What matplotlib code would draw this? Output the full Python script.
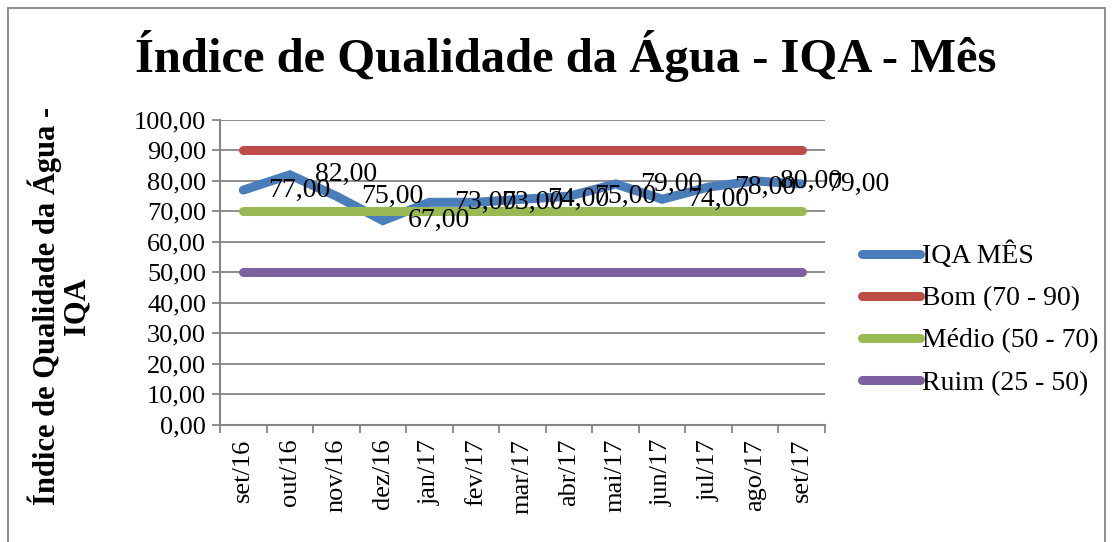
import matplotlib.pyplot as plt
from matplotlib.ticker import FuncFormatter
from matplotlib.patches import Rectangle

meses = ['set/16', 'out/16', 'nov/16', 'dez/16', 'jan/17', 'fev/17', 'mar/17',
         'abr/17', 'mai/17', 'jun/17', 'jul/17', 'ago/17', 'set/17']
iqa = [77, 82, 75, 67, 73, 73, 74, 75, 79, 74, 78, 80, 79]
bom = [90] * 13
medio = [70] * 13
ruim = [50] * 13

plt.rcParams['font.family'] = ['Liberation Serif', 'DejaVu Serif']

fig = plt.figure(figsize=(11.14, 5.42), dpi=100)
ax = fig.add_axes([0.1975, 0.216, 0.5431, 0.5627])

x = list(range(len(meses)))
lw = 6.5
ax.plot(x, iqa, color='#4A7EBB', lw=lw, solid_capstyle='round', solid_joinstyle='miter', label='IQA MÊS', zorder=3)
ax.plot(x, bom, color='#BE4B48', lw=lw, solid_capstyle='round', label='Bom (70 - 90)', zorder=3)
ax.plot(x, medio, color='#98B954', lw=lw, solid_capstyle='round', label='Médio (50 - 70)', zorder=3)
ax.plot(x, ruim, color='#7D60A0', lw=lw, solid_capstyle='round', label='Ruim (25 - 50)', zorder=3)

# rótulos de dados à direita de cada ponto
for xi, v in zip(x, iqa):
    ax.annotate(f'{v:.2f}'.replace('.', ','), (xi, v), xytext=(18, 0),
                textcoords='offset points', ha='left', va='center',
                fontsize=20, zorder=5)

ax.set_xlim(-0.5, len(meses) - 0.5)
ax.set_ylim(0, 100)
ax.set_yticks(range(0, 101, 10))
ax.yaxis.set_major_formatter(FuncFormatter(lambda v, p: f'{v:.2f}'.replace('.', ',')))
ax.set_xticks(x)
ax.set_xticklabels(meses, rotation=90, fontsize=19)
ax.set_xticks([i - 0.5 for i in range(len(meses) + 1)], minor=True)
ax.tick_params(axis='x', which='major', length=0, pad=10)
ax.tick_params(axis='x', which='minor', length=6, color='#868686', width=1.3)
ax.tick_params(axis='y', labelsize=19, length=6, color='#868686', width=1.3, pad=4)
ax.grid(axis='y', color='#868686', lw=1.3, zorder=0)
for s in ['top', 'right']:
    ax.spines[s].set_visible(False)
for s in ['left', 'bottom']:
    ax.spines[s].set_color('#868686')
    ax.spines[s].set_linewidth(1.5)

ax.set_ylabel('Índice de Qualidade da Água -\nIQA', fontsize=22, fontweight='bold', linespacing=1.0)
ax.yaxis.set_label_coords(-0.213, 0.39)

fig.text(0.508, 0.945, 'Índice de Qualidade da Água - IQA - Mês', fontsize=35,
         fontweight='bold', ha='center', va='top')

leg = ax.legend(loc='center left', bbox_to_anchor=(1.061, 0.348), frameon=False,
                fontsize=20, handlelength=2.1, handletextpad=0.05, labelspacing=0.6,
                borderaxespad=0, borderpad=0)

fig.patches.append(Rectangle((0.007, -0.1), 0.985, 1.085, transform=fig.transFigure,
                             fill=False, edgecolor='#868686', lw=1.3))

fig.savefig('out.png', dpi=100)
